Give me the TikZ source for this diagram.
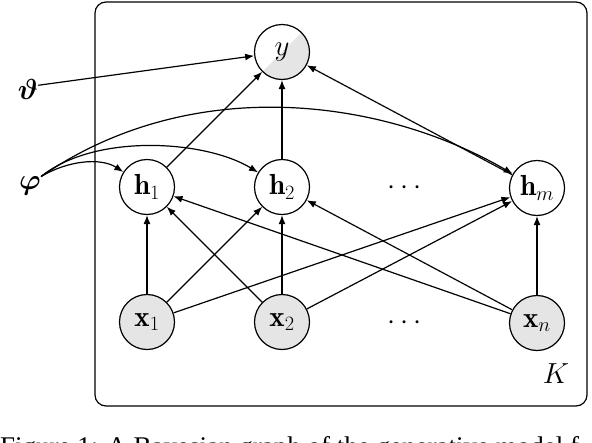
\RequirePackage{fix-cm}
\documentclass[tikz,border=0pt]{standalone}
\usepackage{amsmath}
\usepackage{bm}
\usepackage{fontspec}
\newfontfamily\capfont{Liberation Serif}
\usetikzlibrary{arrows.meta,backgrounds}
\tikzset{
  txt/.style={inner sep=0pt, font=\fontsize{29}{34}\selectfont},
  var/.style={circle, draw, line width=1.2pt, minimum size=55pt, inner sep=0pt, font=\fontsize{29}{34}\selectfont},
  obs/.style={var, fill=gray!20},
  arr/.style={line width=1.2pt, -{Latex[length=9pt,width=7pt]}},
  plate/.style={draw, line width=1.2pt, rounded corners=11pt},
}
\begin{document}
\begin{tikzpicture}[x=1pt,y=-1pt]
\useasboundingbox (0,0) rectangle (592,442);
% plate
\draw[plate] (95,2) rectangle (587,406);
% nodes
\node[var] (y) at (282,52) {$y$};
\begin{scope}[on background layer]
  \clip (y.center) circle[radius=27.5pt];
  \fill[gray!20] (y.south west) -- (y.north east) -- ([xshift=40pt,yshift=-40pt]y.north east) -- ([xshift=40pt,yshift=-40pt]y.south west) -- cycle;
\end{scope}
\node[var] (h1) at (147,187) {$\mathbf{h}_1$};
\node[var] (h2) at (282,187) {$\mathbf{h}_2$};
\node[var] (hm) at (537,188) {$\mathbf{h}_m$};
\node[obs] (x1) at (147,322) {$\mathbf{x}_1$};
\node[obs] (x2) at (282,322) {$\mathbf{x}_2$};
\node[obs] (xn) at (537,323) {$\mathbf{x}_n$};
\node[txt, anchor=base] (hdots) at (407,194) {$\cdots$};
\node[txt, anchor=base] (xdots) at (407,329) {$\cdots$};
\node[txt] (K) at (556,374) {$K$};
\node[txt] (theta) at (28,89) {$\bm{\vartheta}$};
\node[txt] (phi) at (30,186) {$\bm{\varphi}$};
% caption (cut off at the bottom edge)
\node[anchor=base west, inner sep=0pt, font=\capfont\fontsize{27}{32}\selectfont] (cap) at (0,455) {Figure 1: A Bayesian graph of the generative model f};
% edges
\draw[arr] (theta.20) -- (y);
\draw[arr] (phi.north east) .. controls (67,161) and (100,157) .. (h1);
\draw[arr] (phi.north east) .. controls (95,133) and (205,140) .. (h2);
\draw[arr] (phi.north east) .. controls (193,72) and (384,99) .. (hm);
\draw[arr] (h1) -- (y);
\draw[arr] (h2) -- (y);
\draw[arr] (hm) -- (y);
\foreach \s in {x1,x2,xn}{
  \foreach \t in {h1,h2,hm}{
    \draw[arr] (\s) -- (\t);
  }
}
\end{tikzpicture}
\end{document}
